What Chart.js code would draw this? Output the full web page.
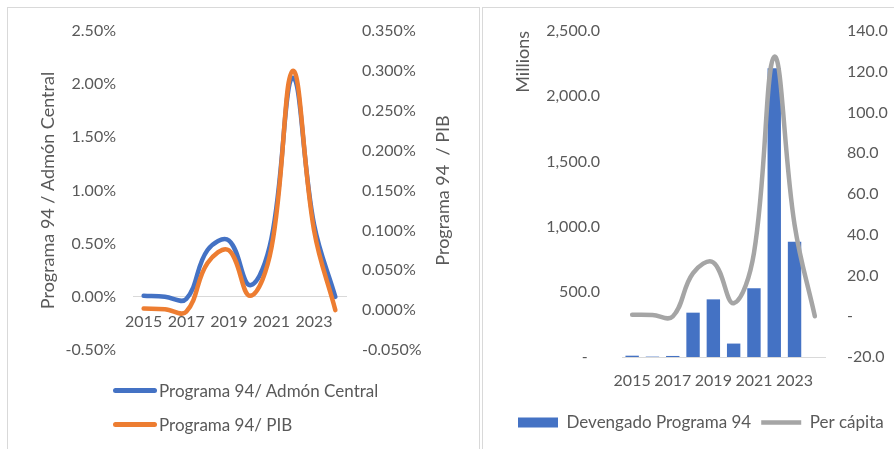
<!DOCTYPE html>
<html>
<head>
<meta charset="utf-8">
<title>Programa 94</title>
<script src="https://cdn.jsdelivr.net/npm/chart.js@4.4.1/dist/chart.umd.min.js"></script>
<style>
  body { margin: 0; background: #fff; font-family: Lato, sans-serif; }
  .frame { position: absolute; top: 7px; height: 460px; border-top: 1px solid #d9d9d9; border-left: 1px solid #d9d9d9; }
  #frameLeft { left: 7px; width: 471px; border-right: 1px solid #d9d9d9; }
  #frameRight { left: 482px; width: 430px; }
  canvas { position: absolute; top: 8px; }
  #left { left: 8px; }
  #right { left: 483px; }
  #leftLegend { position: absolute; left: 113px; top: 379px; color: #595959; font-size: 17px; }
  #leftLegend .item { display: flex; align-items: center; height: 23px; margin-bottom: 11px; }
  #leftLegend .swatch { width: 44px; height: 4.5px; border-radius: 3px; margin-right: 2px; }
</style>
</head>
<body>
<div class="frame" id="frameLeft"></div>
<div class="frame" id="frameRight"></div>
<canvas id="left" width="471" height="441"></canvas>
<canvas id="right" width="411" height="441"></canvas>
<div id="leftLegend"></div>
<script>
// categories
const years = ["2015", "2016", "2017", "2018", "2019", "2020", "2021", "2022", "2023", "2024"];

// left chart: share of Programa 94 (percent)
const shareAdmon = [0.01, 0.00, -0.02, 0.44, 0.53, 0.11, 0.55, 2.06, 0.68, 0.00];
const sharePib = [0.002, 0.001, -0.002, 0.059, 0.075, 0.018, 0.078, 0.300, 0.100, 0.000];

// right chart: devengado (millions) and per capita
const devengado = [10, 3, 8, 340, 442, 103, 527, 2214, 884, 0];
const perCapita = [0.7, 0.6, -0.1, 21.2, 26.4, 6.4, 31, 127.3, 45, 0];

// axis ranges [min, max, step]
const admonAxis = [-0.5, 2.5, 0.5];
const pibAxis = [-0.05, 0.35, 0.05];
const millionsAxis = [0, 2500, 500];
const perCapitaAxis = [-20, 140, 20];

Chart.defaults.font.family = "Lato";
Chart.defaults.font.size = 16;
Chart.defaults.color = "#595959";

const noGrid = { display: false, drawTicks: false };
const clean = v => (Math.abs(v) < 1e-9 ? 0 : v);
const everyOther = (v, i) => (i % 2 === 0 ? years[i] : "");

// fixed axis width, and no extra room above/below the first and last label
const fixWidth = w => s => {
  s.width = w;
  s.paddingTop = 0;
  s.paddingBottom = 0;
};

// Excel style title on the right axis, read from bottom to top
const rightAxisTitle = {
  id: "rightAxisTitle",
  afterDraw(chart, args, opts) {
    if (!opts.text) return;
    const s = chart.scales.y1;
    const ctx = chart.ctx;
    ctx.save();
    ctx.translate(opts.x, (s.top + s.bottom) / 2);
    ctx.rotate(-Math.PI / 2);
    ctx.font = "18px Lato";
    ctx.fillStyle = "#595959";
    ctx.textAlign = "center";
    ctx.textBaseline = "middle";
    ctx.fillText(opts.text, 0, 0);
    ctx.restore();
  }
};

const leftChart = new Chart(document.getElementById("left"), {
  type: "line",
  data: {
    labels: years,
    datasets: [
      {
        label: "Programa 94/ Admón Central",
        data: shareAdmon,
        yAxisID: "y",
        borderColor: "#4472C4",
        backgroundColor: "#4472C4",
        borderWidth: 4.5,
        borderCapStyle: "round",
        pointRadius: 0,
        tension: 0.4,
        order: 1
      },
      {
        label: "Programa 94/ PIB",
        data: sharePib,
        yAxisID: "y1",
        borderColor: "#ED7D31",
        backgroundColor: "#ED7D31",
        borderWidth: 4.5,
        borderCapStyle: "round",
        pointRadius: 0,
        tension: 0.4,
        order: 0
      }
    ]
  },
  plugins: [rightAxisTitle],
  options: {
    responsive: false,
    animation: false,
    events: [],
    layout: { padding: { left: 0, right: 0, top: 23, bottom: 99 } },
    plugins: {
      legend: { display: false },
      tooltip: { enabled: false },
      rightAxisTitle: { text: "Programa 94  / PIB", x: 435 }
    },
    scales: {
      x: {
        position: { y: 0 },
        offset: true,
        grid: noGrid,
        border: { color: "#d9d9d9" },
        ticks: { autoSkip: false, maxRotation: 0, padding: 15, callback: everyOther }
      },
      y: {
        position: "left",
        min: admonAxis[0],
        max: admonAxis[1],
        grid: noGrid,
        border: { display: false },
        ticks: { stepSize: admonAxis[2], padding: 17, callback: v => clean(v).toFixed(2) + "%" },
        title: { display: true, text: "Programa 94 / Admón Central", font: { size: 18 }, padding: { top: 29, bottom: 0 } },
        afterFit: fixWidth(125)
      },
      y1: {
        position: "right",
        min: pibAxis[0],
        max: pibAxis[1],
        grid: noGrid,
        border: { display: false },
        ticks: { stepSize: pibAxis[2], padding: 16, callback: v => clean(v).toFixed(3) + "%" },
        afterFit: fixWidth(133)
      }
    }
  }
});

// html legend for the left chart (items stacked, as in the original)
const legendBox = document.getElementById("leftLegend");
leftChart.data.datasets.forEach(ds => {
  const row = document.createElement("div");
  row.className = "item";
  const swatch = document.createElement("span");
  swatch.className = "swatch";
  swatch.style.background = ds.borderColor;
  const text = document.createElement("span");
  text.textContent = ds.label;
  row.append(swatch, text);
  legendBox.append(row);
});

new Chart(document.getElementById("right"), {
  type: "bar",
  data: {
    labels: years,
    datasets: [
      {
        type: "bar",
        label: "Devengado Programa 94",
        data: devengado,
        yAxisID: "y",
        backgroundColor: "#4472C4",
        borderWidth: 0,
        barPercentage: 0.66,
        categoryPercentage: 1,
        pointStyle: "rect",
        order: 1
      },
      {
        type: "line",
        label: "Per cápita",
        data: perCapita,
        yAxisID: "y1",
        borderColor: "#A5A5A5",
        backgroundColor: "#A5A5A5",
        borderWidth: 4.5,
        borderCapStyle: "round",
        pointRadius: 0,
        pointStyle: "line",
        tension: 0.4,
        order: 0
      }
    ]
  },
  options: {
    responsive: false,
    animation: false,
    events: [],
    layout: { padding: { left: 25, right: 0, top: 23, bottom: 8 } },
    plugins: {
      tooltip: { enabled: false },
      legend: {
        position: "bottom",
        align: "start",
        labels: {
          usePointStyle: true,
          pointStyleWidth: 40,
          boxHeight: 10,
          padding: 10,
          font: { size: 17 },
          sort: (a, b) => a.datasetIndex - b.datasetIndex
        }
      }
    },
    scales: {
      x: {
        grid: noGrid,
        border: { color: "#d9d9d9" },
        ticks: { autoSkip: false, maxRotation: 0, padding: 14, callback: everyOther },
        afterFit: s => { s.height = 47; }
      },
      y: {
        position: "left",
        min: millionsAxis[0],
        max: millionsAxis[1],
        grid: noGrid,
        border: { display: false },
        ticks: {
          stepSize: millionsAxis[2],
          padding: 22,
          callback: v => (v === 0 ? "-   " : v.toLocaleString("en-US", { minimumFractionDigits: 1, maximumFractionDigits: 1 }))
        },
        title: { display: true, text: "Millions", align: "end", font: { size: 18 }, padding: { top: 4, bottom: 0 } },
        afterFit: fixWidth(114)
      },
      y1: {
        position: "right",
        min: perCapitaAxis[0],
        max: perCapitaAxis[1],
        grid: noGrid,
        border: { display: false },
        ticks: { stepSize: perCapitaAxis[2], padding: 22, callback: v => (clean(v) === 0 ? "-" : v.toFixed(1)) },
        afterFit: fixWidth(69)
      }
    }
  }
});
</script>
</body>
</html>
